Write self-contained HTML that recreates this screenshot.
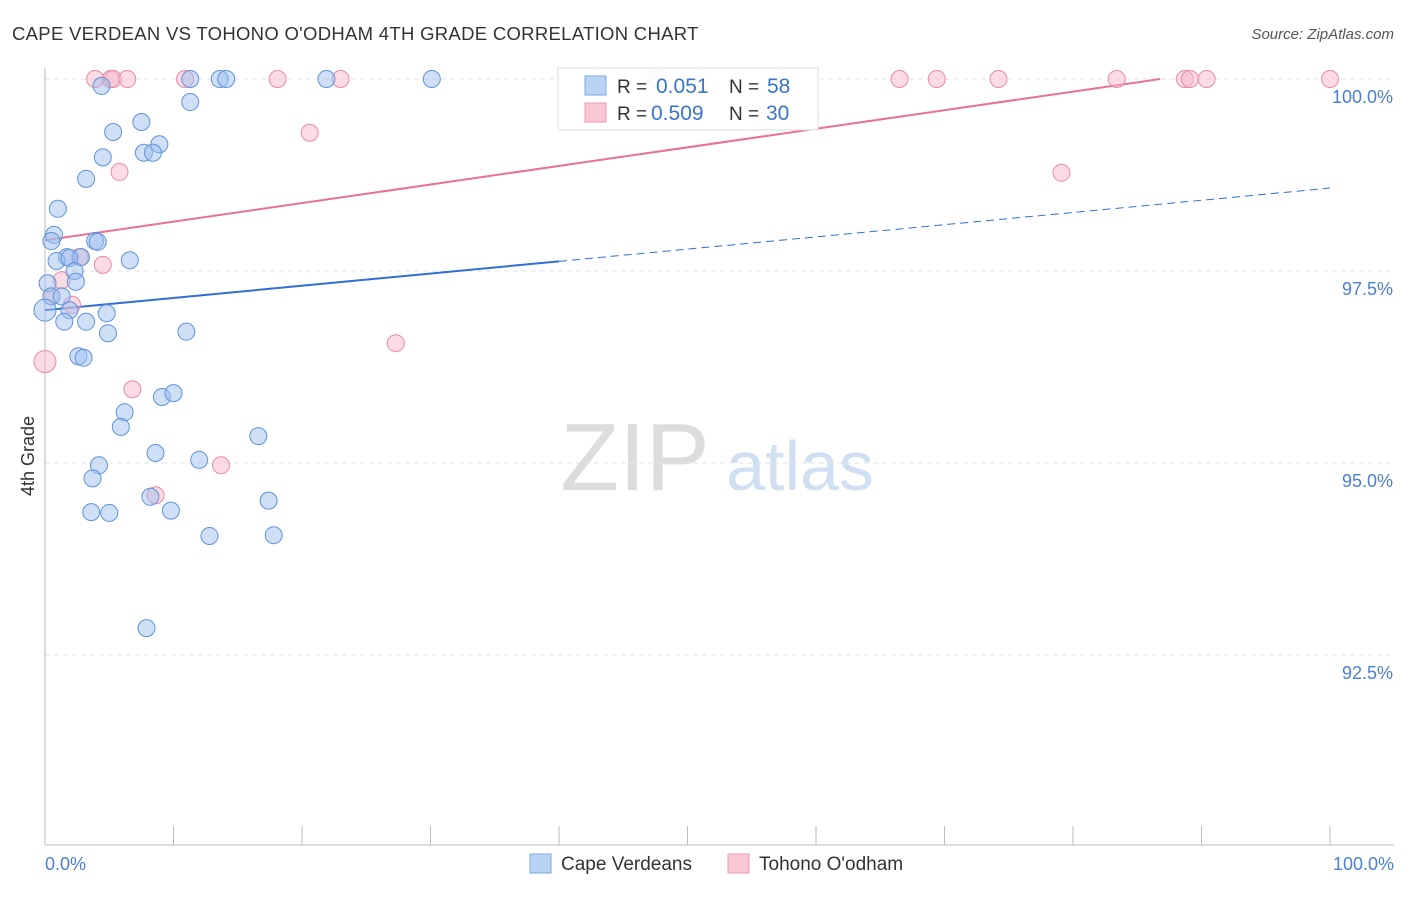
<!DOCTYPE html>
<html><head><meta charset="utf-8"><style>
body{margin:0;background:#fff;font-family:"Liberation Sans",sans-serif;}
svg text{font-family:"Liberation Sans",sans-serif;}
</style></head><body>
<svg id="chart" width="1406" height="892" xmlns="http://www.w3.org/2000/svg">
<text x="12" y="40" font-size="18.5" letter-spacing="0.3" fill="#333">CAPE VERDEAN VS TOHONO O'ODHAM 4TH GRADE CORRELATION CHART</text>
<text x="1394" y="39" font-size="15" fill="#555" text-anchor="end" font-style="italic">Source: ZipAtlas.com</text>
<text x="635" y="490" font-size="96" fill="#dcdcdc" text-anchor="middle" font-family="Liberation Serif">ZIP</text>
<text x="800" y="490" font-size="70" fill="#cfe0f3" text-anchor="middle">atlas</text>
<g id="grid"></g><g id="axes"></g><g id="lines"></g><g id="points"></g>
<text x="34" y="456" font-size="18" fill="#333" text-anchor="middle" transform="rotate(-90 34 456)">4th Grade</text>
<text x="45" y="870" font-size="18" fill="#4a7fd4">0.0%</text>
<text x="1394" y="870" font-size="18" fill="#4a7fd4" text-anchor="end">100.0%</text>
<g>
<rect x="558" y="68" width="260" height="62" fill="#fff" fill-opacity="0.9" stroke="#ddd"/>
<rect x="585" y="76" width="21" height="19" fill="#b9d3f5" stroke="#7fa9e3"/>
<rect x="585" y="103" width="21" height="19" fill="#f9c6d4" stroke="#ee9ab3"/>
<text x="617" y="93" font-size="19" fill="#333">R =</text><text x="656" y="93" font-size="21" fill="#3a74cc">0.051</text>
<text x="729" y="93" font-size="19" fill="#333">N =</text><text x="767" y="93" font-size="21" fill="#3a74cc">58</text>
<text x="617" y="120" font-size="19" fill="#333">R =</text><text x="651" y="120" font-size="21" fill="#3a74cc">0.509</text>
<text x="729" y="120" font-size="19" fill="#333">N =</text><text x="766" y="120" font-size="21" fill="#3a74cc">30</text>
</g>
<g>
<rect x="530" y="854" width="21" height="19" fill="#b9d3f5" stroke="#7fa9e3"/>
<text x="561" y="870" font-size="19" fill="#333">Cape Verdeans</text>
<rect x="728" y="854" width="21" height="19" fill="#f9c6d4" stroke="#ee9ab3"/>
<text x="759" y="870" font-size="19" fill="#333">Tohono O'odham</text>
</g>
</svg>
<script>
const yTicks=[100,97.5,95,92.5];
const yTickLabels=["100.0%","97.5%","95.0%","92.5%"];
const blueX=[4.4,11.3,13.6,14.1,21.9,30.1,11.3,5.3,7.5,8.9,7.7,8.4,4.5,3.2,1.0,0.7,0.5,3.9,4.1,1.7,0.9,2.8,1.9,6.6,2.3,2.4,0.2,0.5,1.3,0,1.9,3.2,1.5,4.8,4.9,11.0,2.6,3.0,9.1,10.0,6.2,5.9,16.6,8.6,12.0,4.2,3.7,8.2,17.4,3.6,5.0,9.8,12.8,17.8,7.9];
const blueY=[99.91,100,100,100,100,100,99.70,99.31,99.44,99.15,99.04,99.04,98.98,98.70,98.31,97.97,97.89,97.89,97.88,97.68,97.63,97.68,97.67,97.64,97.5,97.36,97.34,97.17,97.17,96.99,96.99,96.84,96.84,96.95,96.69,96.71,96.39,96.37,95.86,95.91,95.66,95.47,95.35,95.13,95.04,94.97,94.80,94.56,94.51,94.36,94.35,94.38,94.05,94.06,92.85];
const pinkX=[3.9,5.1,5.3,6.4,10.9,18.1,23.0,47.6,66.5,69.4,74.2,83.4,88.7,89.1,90.4,100,20.6,5.8,79.1,2.7,4.5,1.3,0.5,2.1,27.3,0,6.8,13.7,8.6];
const pinkY=[100,100,100,100,100,100,100,100,100,100,100,100,100,100,100,100,99.30,98.79,98.78,97.68,97.58,97.38,97.17,97.06,96.56,96.32,95.96,94.97,94.58];
const blueFit=[96.99,98.58];
const pinkFit=[97.90,100.32];
const X0=45,X1=1330,YT=79,PX=76.8;
const sx=v=>X0+(X1-X0)*v/100;
const sy=v=>YT+(100-v)*PX;
const NS="http://www.w3.org/2000/svg";
function mk(tag,attrs,parent){const e=document.createElementNS(NS,tag);for(const k in attrs)e.setAttribute(k,attrs[k]);document.getElementById(parent).appendChild(e);return e;}
yTicks.forEach((t,i)=>{
 const g=mk('line',{x1:45,x2:1394,y1:sy(t),y2:sy(t),stroke:'#e3e3e3','stroke-dasharray':'5,4'},'grid');
 
 
 const l=mk('text',{x:1393,y:sy(t)+24,'font-size':18,fill:'#4a7fd4','text-anchor':'end'},'grid');
 l.textContent=yTickLabels[i];
 
 
});
const ax=mk('line',{x1:45,x2:1394,y1:845,y2:845,stroke:'#bbb'},'axes');


const ay=mk('line',{x1:45,x2:45,y1:68,y2:845,stroke:'#bbb'},'axes');


for(let i=0;i<=10;i++){
 const t=mk('line',{x1:sx(i*10),x2:sx(i*10),y1:826,y2:845,stroke:'#bbb'},'axes');
 
 
}
function drawPts(xs,ys,fill,stroke,name){
 xs.forEach((x,i)=>{
  const r=(x===0)?11:8.5;
  const c=mk('circle',{cx:sx(x),cy:sy(ys[i]),r:r,fill:fill,'fill-opacity':0.5,stroke:stroke,'stroke-width':1},'points');
  
  
 });
}
drawPts(pinkX,pinkY,'#f7b7c9','#e98aa7','tohono-point');
drawPts(blueX,blueY,'#9ec0ee','#5f93dc','cape-verdean-point');
const bm=blueFit[0]+(blueFit[1]-blueFit[0])*0.4;
const b1=mk('line',{x1:sx(0),y1:sy(blueFit[0]),x2:sx(40),y2:sy(bm),stroke:'#2f6fd6','stroke-width':2},'lines');


const b2=mk('line',{x1:sx(40),y1:sy(bm),x2:sx(100),y2:sy(blueFit[1]),stroke:'#2f6fd6','stroke-width':1,'stroke-dasharray':'8,5'},'lines');


const xe=100*(100-pinkFit[0])/(pinkFit[1]-pinkFit[0]);
const p1=mk('line',{x1:sx(0),y1:sy(pinkFit[0]),x2:sx(xe),y2:sy(100),stroke:'#e8709a','stroke-width':2},'lines');


</script>
</body></html>
